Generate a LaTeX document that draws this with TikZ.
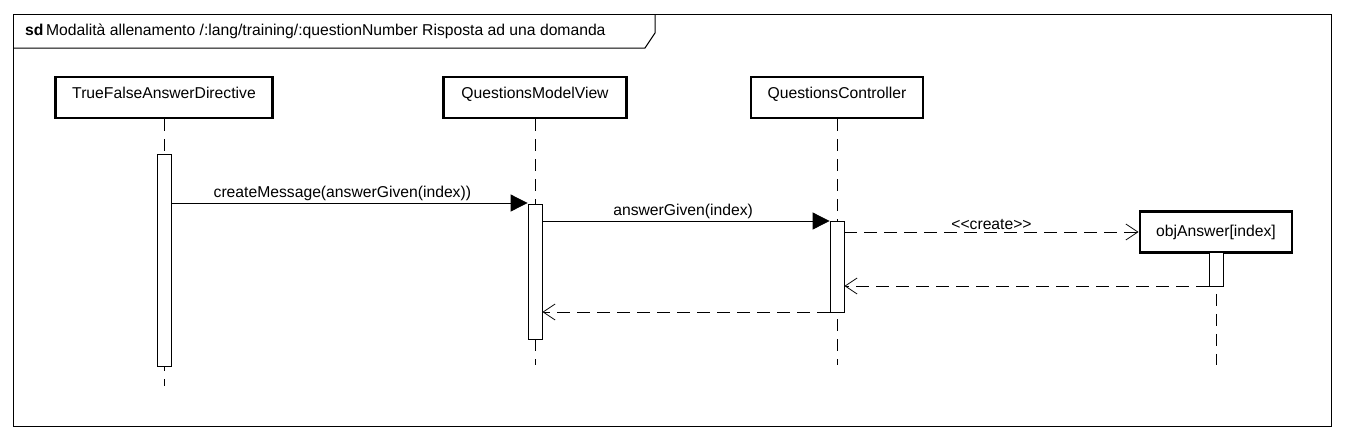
\documentclass[tikz,border=0pt]{standalone}
\usepackage{fontspec}
\setmainfont{Liberation Sans}
\usetikzlibrary{arrows.meta}
\begin{document}
\begin{tikzpicture}[x=1pt,y=-1pt,
  every node/.style={font=\fontsize{15.7}{18}\selectfont},
  head/.style={draw,line width=2.8pt,minimum height=41pt,inner sep=0pt},
  tophead/.style={head,text height=11pt,text depth=9pt},
  bar/.style={draw,fill=white,line width=0.8pt,minimum width=14pt,inner sep=0pt,anchor=north},
  life/.style={line width=0.9pt,dash pattern=on 12pt off 8pt},
  msg/.style={line width=0.8pt,-{Triangle[length=17pt,width=17pt]}},
  ret/.style={line width=0.8pt,dash pattern=on 13pt off 7pt,-{Straight Barb[length=12pt,width=16pt]}},
  lbl/.style={above,inner sep=1.5pt}]
\useasboundingbox (0,0) rectangle (1345,440);
% frame
\draw[line width=1pt] (13,14) rectangle (1331,426);
\draw[line width=1pt] (13,48) -- (645,48) -- (655,33) -- (655,14);
\node[anchor=west,inner sep=0pt] (title) at (25,31) {\textbf{sd}\,Modalità allenamento /:lang/training/:questionNumber Risposta ad una domanda};
% heads
\node[tophead,minimum width=217pt] (h1) at (164,97.5) {TrueFalseAnswerDirective};
\node[tophead,minimum width=183pt] (h2) at (535,97.5) {QuestionsModelView};
\node[tophead,minimum width=172pt] (h3) at (837,97.5) {QuestionsController};
\node[head,minimum width=152pt] (h4) at (1216,232) {objAnswer[index]};
% lifeline ends
\coordinate (e1) at (164,386);
\coordinate (e2) at (535,365);
\coordinate (e3) at (837,365);
\coordinate (e4) at (1216,365);
\draw[life] (h1.south) -- (e1);
\draw[life] (h2.south) -- (e2);
\draw[life] (h3.south) -- (e3);
\draw[life] (h4.south) -- (e4);
% activation bars
\node[bar,minimum height=212pt] (a1) at (164,154) {};
\node[bar,minimum height=135pt] (a2) at (535,204) {};
\node[bar,minimum height=91pt] (a3) at (837,221) {};
\node[bar,minimum height=34pt] (a4) at (1216,252) {};
% messages
\draw[msg] (a1.east |- 0,203) -- (a2.west |- 0,203) node[lbl,pos=0.48] {createMessage(answerGiven(index))};
\draw[msg] (a2.east |- 0,221) -- (a3.west |- 0,221) node[lbl,pos=0.49] {answerGiven(index)};
\draw[ret] (a3.east |- 0,232) -- (h4.west |- 0,232) node[lbl,midway] {<{}<create>{}>};
\draw[ret] (a4.west |- 0,286) -- (a3.east |- 0,286);
\draw[ret] (a3.west |- 0,312) -- (a2.east |- 0,312);
\end{tikzpicture}
\end{document}
